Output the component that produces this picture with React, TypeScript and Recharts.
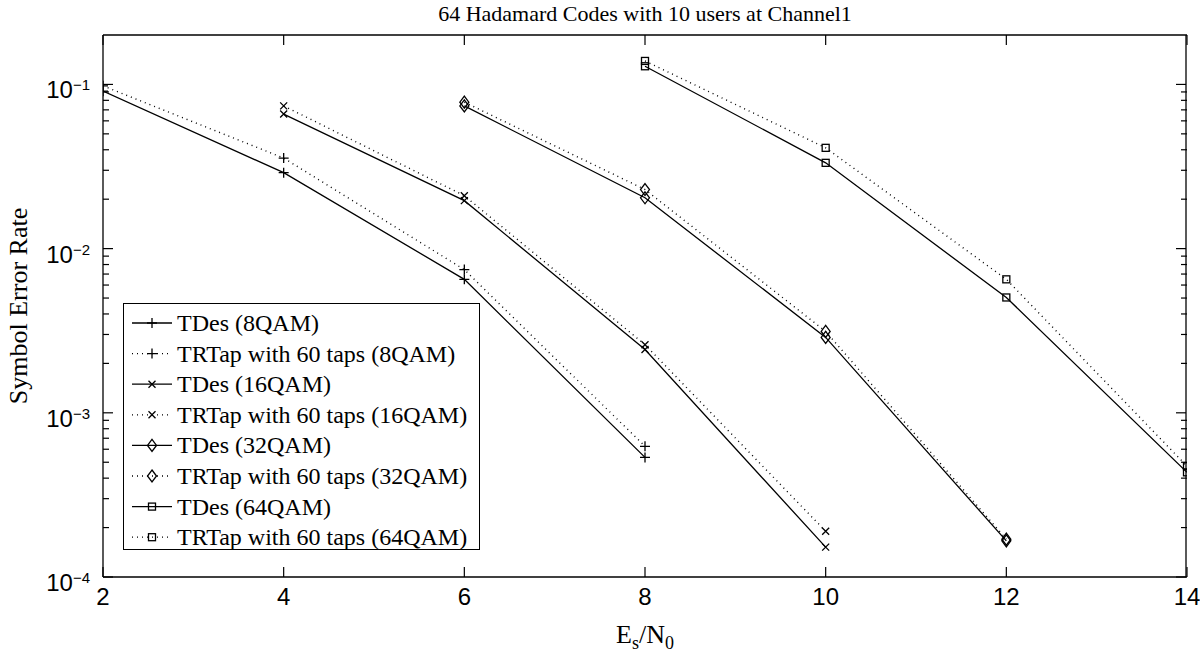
import React from "react";
import { LineChart, Line, XAxis, YAxis, Legend } from "recharts";

// Es/N0 points of each modulation
const snr8QAM = [2, 4, 6, 8];
const snr16QAM = [4, 6, 8, 10];
const snr32QAM = [6, 8, 10, 12];
const snr64QAM = [8, 10, 12, 14];

// symbol error rate
const tdes8QAM = [0.091, 0.029, 0.0065, 0.000535];
const trtap8QAM = [0.098, 0.0356, 0.00745, 0.000625];
const tdes16QAM = [0.066, 0.0196, 0.00243, 0.000152];
const trtap16QAM = [0.074, 0.021, 0.0026, 0.00019];
const tdes32QAM = [0.074, 0.0204, 0.00288, 0.000166];
const trtap32QAM = [0.078, 0.0229, 0.00313, 0.00017];
const tdes64QAM = [0.129, 0.0333, 0.00504, 0.000434];
const trtap64QAM = [0.139, 0.0411, 0.0065, 0.000473];

const xTicks = [2, 4, 6, 8, 10, 12, 14];
const yMajorTicks = [1e-4, 1e-3, 1e-2, 1e-1];
const yMinorTicks = [
  2e-4, 3e-4, 4e-4, 5e-4, 6e-4, 7e-4, 8e-4, 9e-4,
  2e-3, 3e-3, 4e-3, 5e-3, 6e-3, 7e-3, 8e-3, 9e-3,
  2e-2, 3e-2, 4e-2, 5e-2, 6e-2, 7e-2, 8e-2, 9e-2,
];

const SERIF = "'Liberation Serif', 'Times New Roman', serif";
const SANS = "'Liberation Sans', Arial, sans-serif";

const MARGIN_TOP = 35;

type MarkerShape = "plus" | "cross" | "diamond" | "square";

type Series = {
  name: string;
  snr: number[];
  ser: number[];
  marker: MarkerShape;
  dotted: boolean;
};

const series: Series[] = [
  { name: "TDes (8QAM)", snr: snr8QAM, ser: tdes8QAM, marker: "plus", dotted: false },
  { name: "TRTap with 60 taps (8QAM)", snr: snr8QAM, ser: trtap8QAM, marker: "plus", dotted: true },
  { name: "TDes (16QAM)", snr: snr16QAM, ser: tdes16QAM, marker: "cross", dotted: false },
  { name: "TRTap with 60 taps (16QAM)", snr: snr16QAM, ser: trtap16QAM, marker: "cross", dotted: true },
  { name: "TDes (32QAM)", snr: snr32QAM, ser: tdes32QAM, marker: "diamond", dotted: false },
  { name: "TRTap with 60 taps (32QAM)", snr: snr32QAM, ser: trtap32QAM, marker: "diamond", dotted: true },
  { name: "TDes (64QAM)", snr: snr64QAM, ser: tdes64QAM, marker: "square", dotted: false },
  { name: "TRTap with 60 taps (64QAM)", snr: snr64QAM, ser: trtap64QAM, marker: "square", dotted: true },
];

const Marker = ({ cx, cy, shape }: { cx: number; cy: number; shape: MarkerShape }) => {
  const common = { stroke: "#000", strokeWidth: 1.3, fill: "none" };
  if (shape === "plus") {
    return <path d={`M${cx - 5},${cy}h10M${cx},${cy - 5}v10`} {...common} />;
  }
  if (shape === "cross") {
    return <path d={`M${cx - 3.5},${cy - 3.5}l7,7M${cx - 3.5},${cy + 3.5}l7,-7`} {...common} />;
  }
  if (shape === "diamond") {
    return <path d={`M${cx},${cy - 6}L${cx + 4.5},${cy}L${cx},${cy + 6}L${cx - 4.5},${cy}Z`} {...common} />;
  }
  return <rect x={cx - 3.5} y={cy - 3.5} width={7} height={7} {...common} />;
};

// left axis: tick marks drawn inward here (long for decades, short for minors) + labels
const LeftTick = (props: any) => {
  const { x, y, payload } = props;
  const major = yMajorTicks.includes(payload.value);
  const exp = Math.round(Math.log10(payload.value));
  return (
    <g>
      <line x1={x} x2={x + (major ? 10 : 6)} y1={y} y2={y} stroke="#000" strokeWidth={1.2} />
      {major && (
        <text x={x - 13} y={y + 14} textAnchor="end" fontFamily={SANS} fontSize={24} fill="#000">
          <tspan>10</tspan>
          <tspan dy={-8} fontSize={15}>{"\u2212" + Math.abs(exp)}</tspan>
        </text>
      )}
    </g>
  );
};

// bottom axis label, plus the matching inward tick on the top edge of the frame
const XTick = (props: any) => {
  const { x, y, payload } = props;
  return (
    <g>
      <line x1={x} x2={x} y1={MARGIN_TOP} y2={MARGIN_TOP + 10} stroke="#000" strokeWidth={1.2} />
      <text x={x} y={y + 28} textAnchor="middle" fontFamily={SANS} fontSize={24} fill="#000">
        {payload.value}
      </text>
    </g>
  );
};

// ticks without labels (tick={false} would drop the tick marks too)
const NoLabel = () => <g />;

const LegendBox = () => (
  <div
    style={{
      width: 357,
      height: 247,
      border: "1.3px solid #000",
      background: "#fff",
      boxSizing: "border-box",
    }}
  >
    <svg width={355} height={245}>
      {series.map((s, i) => {
        const cy = 19 + i * 30.6;
        return (
          <g key={s.name}>
            <line
              x1={8}
              x2={48}
              y1={cy}
              y2={cy}
              stroke="#000"
              strokeWidth={1.3}
              strokeDasharray={s.dotted ? "1 4" : undefined}
            />
            <Marker cx={28} cy={cy} shape={s.marker} />
            <text x={53} y={cy + 8} fontFamily={SERIF} fontSize={24} fill="#000">
              {s.name}
            </text>
          </g>
        );
      })}
    </svg>
  </div>
);

const logAxis = {
  type: "number" as const,
  scale: "log" as const,
  domain: [1e-4, 0.2],
  interval: 0,
  allowDataOverflow: true,
  stroke: "#000",
};

export default function App() {
  return (
    <div style={{ position: "absolute", left: 0, top: 0, width: 1200, height: 657, background: "#fff" }}>
      <LineChart width={1200} height={657} margin={{ top: MARGIN_TOP, right: 13, bottom: 0, left: 0 }}>
        <XAxis
          xAxisId="main"
          type="number"
          dataKey="snr"
          domain={[2, 14]}
          ticks={xTicks}
          interval={0}
          allowDataOverflow
          height={80}
          tickSize={-10}
          tickMargin={10}
          tick={<XTick />}
          stroke="#000"
          tickLine={{ stroke: "#000", strokeWidth: 1.2 }}
          axisLine={{ stroke: "#000", strokeWidth: 1.3 }}
        />
        <XAxis
          xAxisId="top"
          orientation="top"
          mirror
          type="number"
          domain={[2, 14]}
          ticks={xTicks}
          interval={0}
          allowDataOverflow
          height={1}
          tickSize={0}
          tickLine={false}
          tick={<NoLabel />}
          stroke="#000"
          axisLine={{ stroke: "#000", strokeWidth: 1.3 }}
        />
        <YAxis
          yAxisId="main"
          {...logAxis}
          ticks={[...yMajorTicks, ...yMinorTicks]}
          width={103}
          tickSize={0}
          tickMargin={0}
          tickLine={false}
          tick={<LeftTick />}
          axisLine={{ stroke: "#000", strokeWidth: 1.3 }}
        />
        <YAxis
          yAxisId="right"
          {...logAxis}
          orientation="right"
          mirror
          ticks={yMajorTicks}
          width={1}
          tickSize={10}
          tick={<NoLabel />}
          tickLine={{ stroke: "#000", strokeWidth: 1.2 }}
          axisLine={{ stroke: "#000", strokeWidth: 1.3 }}
        />
        <YAxis
          yAxisId="minorRight"
          {...logAxis}
          orientation="right"
          mirror
          ticks={yMinorTicks}
          width={1}
          tickSize={6}
          tick={<NoLabel />}
          tickLine={{ stroke: "#000", strokeWidth: 1.2 }}
          axisLine={false}
        />
        {series.map((s) => (
          <Line
            key={s.name}
            name={s.name}
            xAxisId="main"
            yAxisId="main"
            data={s.snr.map((v, i) => ({ snr: v, ser: s.ser[i] }))}
            dataKey="ser"
            type="linear"
            stroke="#000"
            strokeWidth={s.dotted ? 1.4 : 1.3}
            strokeDasharray={s.dotted ? "1 4" : undefined}
            dot={(p: any) => <Marker key={`${s.name}-${p.index}`} cx={p.cx} cy={p.cy} shape={s.marker} />}
            activeDot={false}
            isAnimationActive={false}
          />
        ))}
        <Legend
          layout="vertical"
          align="center"
          verticalAlign="middle"
          wrapperStyle={{ left: 123, top: 303, width: 357, height: 247 }}
          content={() => <LegendBox />}
        />
      </LineChart>
      <svg
        width={1200}
        height={657}
        style={{ position: "absolute", left: 0, top: 0, pointerEvents: "none" }}
      >
        <text x={645} y={21} textAnchor="middle" fontFamily={SERIF} fontSize={22} fill="#000">
          64 Hadamard Codes with 10 users at Channel1
        </text>
        <text
          x={0}
          y={0}
          transform="translate(27,306) rotate(-90)"
          textAnchor="middle"
          fontFamily={SERIF}
          fontSize={26}
          fill="#000"
        >
          Symbol Error Rate
        </text>
        <text x={645} y={643} textAnchor="middle" fontFamily={SERIF} fontSize={26} fill="#000">
          <tspan>E</tspan>
          <tspan dy={6} fontSize={18}>s</tspan>
          <tspan dy={-6}>/N</tspan>
          <tspan dy={6} fontSize={18}>0</tspan>
        </text>
      </svg>
    </div>
  );
}
